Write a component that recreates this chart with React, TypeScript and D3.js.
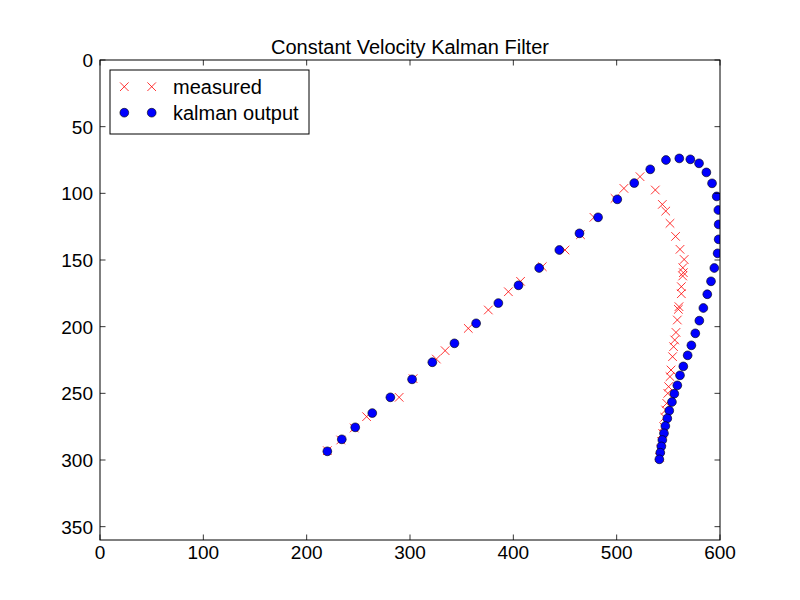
import React, { useEffect, useRef } from 'react';
import * as d3 from 'd3';

// measured positions (x, y)
const measuredX = [220, 233, 246, 258, 289.5, 303, 325.5, 334, 356.4, 375.8, 395.2, 407, 428, 450, 465, 478, 498.4, 507, 522.6, 537.4, 544.2, 547.5, 551.6, 557, 561.3, 565.3, 564, 564.5, 563.9, 562.6, 562.6, 560.3, 559.7, 558.7, 557.4, 556.2, 555.1, 554.1, 552.6, 551.6, 550.3, 549.5, 548.4, 547.4, 546.5, 545.5, 544.5, 543.5, 542.6, 541.5];
const measuredY = [293, 285, 276, 267.5, 253, 239, 224.3, 218, 201.3, 187.5, 173.8, 166, 155, 142.5, 131, 118, 103.8, 96.3, 87.5, 97.5, 108.3, 113.3, 122.5, 132.3, 142, 149.6, 155.8, 159.5, 162, 170, 175.3, 185, 187, 195, 204.3, 210, 215, 222.5, 232.5, 237.5, 245, 250, 257.5, 262.5, 268, 275, 280, 286, 292, 298];

// kalman filter output (x, y)
const kalmanX = [220, 234, 247, 263.5, 281, 302, 321.6, 343, 364, 385.5, 405, 425, 444.5, 464, 482, 500.6, 517, 532.5, 547.7, 560.6, 571.3, 579.7, 586.8, 592.3, 596.8, 598.4, 598.7, 598.7, 597.7, 594.5, 591.3, 587.7, 583.9, 580, 576.1, 572.3, 568.7, 564.5, 561.3, 558.7, 555.8, 553.5, 550.9, 549, 547.1, 545.8, 544.2, 543.2, 542.2, 541.3];
const kalmanY = [293.5, 284.5, 275.5, 264.8, 253, 239.5, 226.7, 212.5, 197.5, 182.3, 169, 156, 142.5, 130, 118, 104.5, 92.3, 82, 75, 73.8, 74.5, 77.5, 84.3, 92.5, 102.3, 112.5, 123.3, 134.5, 145, 156, 166, 175.7, 186, 195.5, 205, 214, 221.5, 229.8, 236.5, 244, 250.3, 256.5, 263, 268.8, 274.5, 280, 285, 289.8, 294.5, 299.5];

const xTicks = [0, 100, 200, 300, 400, 500, 600];
const yTicks = [0, 50, 100, 150, 200, 250, 300, 350];

const chartTitle = 'Constant Velocity Kalman Filter';
const legendLabels = ['measured', 'kalman output'];

const FONT = '"Liberation Sans", Arial, sans-serif';

const App: React.FC = () => {
  const svgRef = useRef<SVGSVGElement>(null);

  useEffect(() => {
    const width = 800;
    const height = 600;
    d3.select(svgRef.current).selectAll('*').remove();
    const svg = d3.select(svgRef.current)
      .attr('width', width)
      .attr('height', height);

    svg.append('rect').attr('width', width).attr('height', height).attr('fill', '#fff');

    const margin = { top: 60, right: 80, bottom: 60, left: 100 };
    const innerW = width - margin.left - margin.right;
    const innerH = height - margin.top - margin.bottom;

    const x = d3.scaleLinear().domain([0, 600]).range([0, innerW]);
    const y = d3.scaleLinear().domain([0, 360]).range([0, innerH]); // inverted axis

    const g = svg.append('g').attr('transform', `translate(${margin.left},${margin.top})`);

    svg.append('defs').append('clipPath').attr('id', 'plot-clip')
      .append('rect').attr('width', innerW).attr('height', innerH);

    // 数据点
    const plot = g.append('g').attr('clip-path', 'url(#plot-clip)');

    const xs = 4.3;
    const measured = measuredX.map((v, i) => [v, measuredY[i]]);
    plot.selectAll('.meas')
      .data(measured)
      .enter()
      .append('path')
      .attr('class', 'meas')
      .attr('d', d => {
        const cx = x(d[0]), cy = y(d[1]);
        return `M${cx - xs},${cy - xs}L${cx + xs},${cy + xs}M${cx - xs},${cy + xs}L${cx + xs},${cy - xs}`;
      })
      .attr('stroke', '#ff0000')
      .attr('stroke-width', 0.8)
      .attr('fill', 'none');

    const kalman = kalmanX.map((v, i) => [v, kalmanY[i]]);
    plot.selectAll('.kal')
      .data(kalman)
      .enter()
      .append('circle')
      .attr('class', 'kal')
      .attr('cx', d => x(d[0]))
      .attr('cy', d => y(d[1]))
      .attr('r', 4.4)
      .attr('fill', '#0000ff')
      .attr('stroke', '#000')
      .attr('stroke-width', 0.6);

    // 坐标轴边框
    g.append('rect')
      .attr('width', innerW)
      .attr('height', innerH)
      .attr('fill', 'none')
      .attr('stroke', '#000')
      .attr('stroke-width', 1);

    const tickLen = 5.5;
    xTicks.forEach(t => {
      const px = x(t);
      g.append('line').attr('x1', px).attr('x2', px).attr('y1', innerH).attr('y2', innerH - tickLen)
        .attr('stroke', '#000').attr('stroke-width', 0.8);
      g.append('line').attr('x1', px).attr('x2', px).attr('y1', 0).attr('y2', tickLen)
        .attr('stroke', '#000').attr('stroke-width', 0.8);
      g.append('text')
        .attr('x', px)
        .attr('y', innerH + 5)
        .attr('dy', '0.72em')
        .attr('text-anchor', 'middle')
        .attr('font-family', FONT)
        .attr('font-size', 19)
        .attr('fill', '#000')
        .text(t);
    });

    yTicks.forEach(t => {
      const py = y(t);
      g.append('line').attr('x1', 0).attr('x2', tickLen).attr('y1', py).attr('y2', py)
        .attr('stroke', '#000').attr('stroke-width', 0.8);
      g.append('line').attr('x1', innerW).attr('x2', innerW - tickLen).attr('y1', py).attr('y2', py)
        .attr('stroke', '#000').attr('stroke-width', 0.8);
      g.append('text')
        .attr('x', -7)
        .attr('y', py)
        .attr('dy', '0.36em')
        .attr('text-anchor', 'end')
        .attr('font-family', FONT)
        .attr('font-size', 19)
        .attr('fill', '#000')
        .text(t);
    });

    // 标题
    svg.append('text')
      .attr('x', margin.left + innerW / 2)
      .attr('y', margin.top - 6)
      .attr('text-anchor', 'middle')
      .attr('font-family', FONT)
      .attr('font-size', 20)
      .attr('fill', '#000')
      .text(chartTitle);

    // 图例
    const lg = g.append('g').attr('transform', 'translate(10,10)');
    lg.append('rect')
      .attr('width', 199)
      .attr('height', 64)
      .attr('fill', '#fff')
      .attr('stroke', '#000')
      .attr('stroke-width', 1);

    const rowY = [16.7, 42.7];
    [14.3, 41.7].forEach(mx => {
      const cy = rowY[0];
      lg.append('path')
        .attr('d', `M${mx - xs},${cy - xs}L${mx + xs},${cy + xs}M${mx - xs},${cy + xs}L${mx + xs},${cy - xs}`)
        .attr('stroke', '#ff0000').attr('stroke-width', 0.8).attr('fill', 'none');
      lg.append('circle')
        .attr('cx', mx).attr('cy', rowY[1]).attr('r', 4.4)
        .attr('fill', '#0000ff').attr('stroke', '#000').attr('stroke-width', 0.6);
    });
    legendLabels.forEach((lbl, i) => {
      lg.append('text')
        .attr('x', 63)
        .attr('y', rowY[i])
        .attr('dy', '0.35em')
        .attr('font-family', FONT)
        .attr('font-size', 20)
        .attr('fill', '#000')
        .text(lbl);
    });
  }, []);

  return (
    <div style={{ position: 'absolute', left: 0, top: 0 }}>
      <svg ref={svgRef} style={{ display: 'block' }} />
    </div>
  );
};

export default App;
